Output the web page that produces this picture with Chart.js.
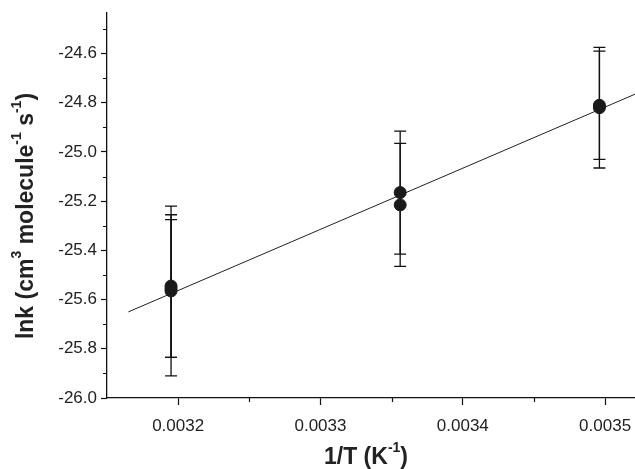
<!DOCTYPE html>
<html>
<head>
<meta charset="utf-8">
<script src="https://cdn.jsdelivr.net/npm/chart.js@4/dist/chart.umd.min.js"></script>
<style>
  html, body { margin: 0; padding: 0; background: #fff; }
  #wrap { width: 635px; height: 469px; }
</style>
</head>
<body>
<div id="wrap"><canvas id="rate_chart" width="635" height="469"></canvas></div>
<script>
"use strict";

// measured points (1/T, lnk) and their error half-widths
const invT = [0.003195, 0.003195, 0.003195, 0.003356, 0.003356, 0.003496, 0.003496];
const lnK = [-25.565, -25.545, -25.555, -25.165, -25.215, -24.82, -24.81];
const lnKErr = [0.345, 0.29, 0.28, 0.25, 0.25, 0.245, 0.22];

// linear fit
const fitX = [0.003165, 0.003521];
const fitY = [-25.65, -24.765];

const xTicks = [0.0032, 0.0033, 0.0034, 0.0035];
const xMinorTicks = [0.00325, 0.00335, 0.00345];
const yTicks = [-26.0, -25.8, -25.6, -25.4, -25.2, -25.0, -24.8, -24.6];
const yMinorTicks = [-25.9, -25.7, -25.5, -25.3, -25.1, -24.9, -24.7, -24.5];

const FONT = "'Liberation Sans', Arial, Helvetica, sans-serif";
Chart.defaults.font.family = FONT;
Chart.defaults.color = "#222";

// let the x axis run right up to the canvas edge, as in the original figure
const fullWidthPlugin = {
  id: "fullWidth",
  afterLayout(chart) {
    const xs = chart.scales.x;
    chart.chartArea.right = chart.width;
    chart.chartArea.width = chart.chartArea.right - chart.chartArea.left;
    xs.right = chart.width;
    xs.width = xs.right - xs.left;
    xs.configure();
  }
};

const errorBarsPlugin = {
  id: "errorBars",
  beforeDatasetsDraw(chart) {
    const { ctx, scales } = chart;
    ctx.save();
    ctx.strokeStyle = "#111";
    ctx.lineWidth = 1.3;
    invT.forEach((x, i) => {
      const px = scales.x.getPixelForValue(x);
      const top = scales.y.getPixelForValue(lnK[i] + lnKErr[i]);
      const bot = scales.y.getPixelForValue(lnK[i] - lnKErr[i]);
      ctx.beginPath();
      ctx.moveTo(px, top);
      ctx.lineTo(px, bot);
      ctx.moveTo(px - 6, top);
      ctx.lineTo(px + 6, top);
      ctx.moveTo(px - 6, bot);
      ctx.lineTo(px + 6, bot);
      ctx.stroke();
    });
    ctx.restore();
  }
};

function drawRich(ctx, parts, size) {
  const big = "bold " + size + "px " + FONT;
  const small = "bold " + Math.round(size * 0.6) + "px " + FONT;
  let total = 0;
  parts.forEach(p => {
    ctx.font = p.sup ? small : big;
    total += ctx.measureText(p.t).width;
  });
  let x = -total / 2;
  parts.forEach(p => {
    ctx.font = p.sup ? small : big;
    ctx.fillText(p.t, x, p.sup ? -size * 0.42 : 0);
    x += ctx.measureText(p.t).width;
  });
}

const axisDecorPlugin = {
  id: "axisDecor",
  afterDraw(chart) {
    const { ctx, scales, chartArea } = chart;
    ctx.save();
    ctx.strokeStyle = "#111";
    ctx.lineWidth = 1.2;
    ctx.beginPath();
    yMinorTicks.forEach(v => {
      const py = Math.round(scales.y.getPixelForValue(v)) + 0.5;
      ctx.moveTo(chartArea.left - 4, py);
      ctx.lineTo(chartArea.left, py);
    });
    xMinorTicks.forEach(v => {
      const px = Math.round(scales.x.getPixelForValue(v)) + 0.5;
      ctx.moveTo(px, chartArea.bottom);
      ctx.lineTo(px, chartArea.bottom + 4);
    });
    ctx.stroke();

    ctx.fillStyle = "#222";
    ctx.textBaseline = "middle";
    ctx.textAlign = "left";

    ctx.save();
    ctx.translate(366, 458);
    drawRich(ctx, [
      { t: "1/T (K" }, { t: "-1", sup: true }, { t: ")" }
    ], 23);
    ctx.restore();

    ctx.save();
    ctx.translate(27, 216);
    ctx.rotate(-Math.PI / 2);
    drawRich(ctx, [
      { t: "lnk (cm" }, { t: "3", sup: true }, { t: " molecule" },
      { t: "-1", sup: true }, { t: " s" }, { t: "-1", sup: true }, { t: ")" }
    ], 23);
    ctx.restore();

    ctx.restore();
  }
};

const rateChartContext = document.getElementById("rate_chart").getContext("2d");

const rateChart = new Chart(rateChartContext, {
  type: "scatter",
  data: {
    datasets: [
      {
        label: "lnk",
        data: invT.map((x, i) => ({ x: x, y: lnK[i] })),
        backgroundColor: "#1a1a1a",
        borderColor: "#1a1a1a",
        pointRadius: 6,
        pointHoverRadius: 6,
        order: 1
      },
      {
        type: "line",
        label: "fit",
        data: fitX.map((x, i) => ({ x: x, y: fitY[i] })),
        borderColor: "#222",
        borderWidth: 1,
        pointRadius: 0,
        fill: false,
        order: 2
      }
    ]
  },
  options: {
    responsive: false,
    animation: false,
    devicePixelRatio: 1,
    layout: { padding: { top: 13, right: 0, left: 0, bottom: 0 } },
    plugins: {
      legend: { display: false },
      tooltip: { enabled: false }
    },
    scales: {
      x: {
        type: "linear",
        min: 0.00315,
        max: 0.003521,
        afterBuildTicks: s => { s.ticks = xTicks.map(v => ({ value: v })); },
        afterFit: s => { s.height = 71; s.paddingLeft = 0; s.paddingRight = 0; },
        border: { display: true, color: "#111", width: 1.3 },
        grid: { drawOnChartArea: false, drawTicks: true, tickLength: 7, tickColor: "#111", tickWidth: 1.2 },
        ticks: {
          padding: 11,
          maxRotation: 0,
          font: { size: 17 },
          color: "#222",
          callback: v => Number(v).toFixed(4)
        }
      },
      y: {
        type: "linear",
        min: -26.0,
        max: -24.435,
        afterBuildTicks: s => { s.ticks = yTicks.map(v => ({ value: v })); },
        afterFit: s => { s.width = 107; s.paddingTop = 0; s.paddingBottom = 0; },
        border: { display: true, color: "#111", width: 1.3 },
        grid: { drawOnChartArea: false, drawTicks: true, tickLength: 6, tickColor: "#111", tickWidth: 1.2 },
        ticks: {
          padding: 4,
          font: { size: 17 },
          color: "#222",
          callback: v => Number(v).toFixed(1)
        }
      }
    }
  },
  plugins: [fullWidthPlugin, errorBarsPlugin, axisDecorPlugin]
});
</script>
</body>
</html>
